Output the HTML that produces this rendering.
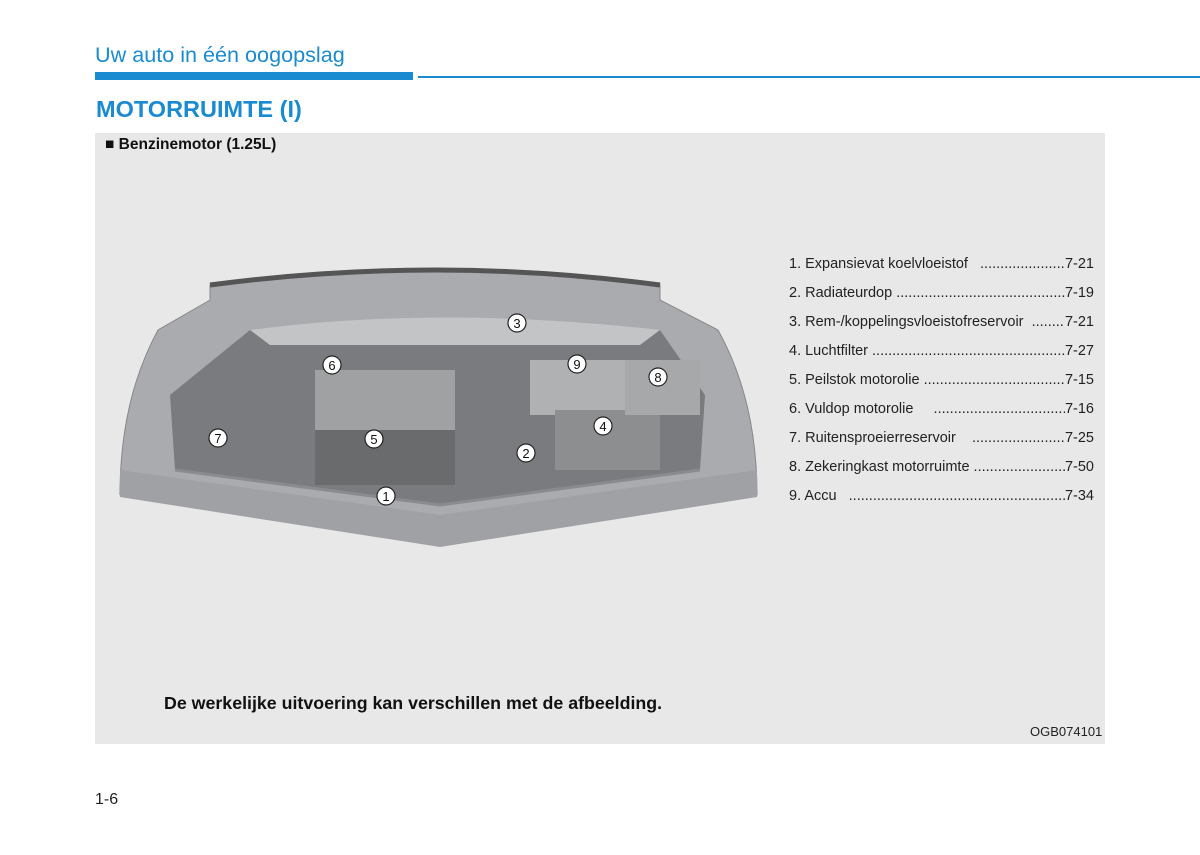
<!DOCTYPE html>
<html><head><meta charset="utf-8"><style>
body{margin:0;width:1200px;height:855px;background:#fff;position:relative;font-family:"Liberation Sans",sans-serif;overflow:hidden}
.a{position:absolute;white-space:nowrap}
.li{position:absolute;left:789px;width:305px;font-size:14.5px;color:#222;display:flex;white-space:nowrap}
.li .d{flex:1;overflow:hidden}
.li .d:after{content:"......................................................................................................"}
</style></head><body>
<div class="a" style="left:95px;top:42px;font-size:21.6px;color:#1a8bd0">Uw auto in één oogopslag</div>
<div class="a" style="left:95px;top:72px;width:318px;height:8px;background:#1a8bd0"></div>
<div class="a" style="left:418px;top:76px;width:782px;height:2px;background:#1a8bd0"></div>
<div class="a" style="left:96px;top:96px;font-size:23.5px;font-weight:bold;color:#1a8bd0">MOTORRUIMTE (I)</div>
<div class="a" style="left:95px;top:133px;width:1010px;height:611px;background:#e8e8e8"></div>
<div class="a" style="left:105px;top:136px;font-size:15.5px;font-weight:bold;color:#111">■ Benzinemotor (1.25L)</div>
<svg class="a" style="left:0;top:0" width="1200" height="855">
<path d="M158,330 Q120,400 120,495 L440,545 L757,495 Q757,400 718,330 L660,300 L660,285 Q435,255 210,285 L210,300 Z" fill="#a9abae" stroke="#888" />
<path d="M120,470 L440,515 L757,470 L757,497 L440,547 L120,497 Z" fill="#9fa1a4"/>
<path d="M170,395 L175,470 L440,505 L700,470 L705,395 L660,330 L250,330 Z" fill="#7a7b7e"/>
<path d="M250,330 Q440,305 660,330 L640,345 L270,345 Z" fill="#c3c4c6"/>
<rect x="315" y="370" width="140" height="60" fill="#a0a1a3"/>
<rect x="315" y="430" width="140" height="55" fill="#6a6b6d"/>
<rect x="530" y="360" width="100" height="55" fill="#b0b1b3"/>
<rect x="555" y="410" width="105" height="60" fill="#8d8e90"/>
<rect x="625" y="360" width="75" height="55" fill="#a7a8aa"/>
<path d="M210,285 Q435,255 660,285" fill="none" stroke="#555" stroke-width="5"/>
<path d="M175,470 L440,505 L700,470" fill="none" stroke="#8a8b8e" stroke-width="3"/>
<g fill="#fff" stroke="#222" stroke-width="1.2">
<circle cx="386" cy="496" r="9"/><circle cx="526" cy="453" r="9"/><circle cx="517" cy="323" r="9"/>
<circle cx="603" cy="426" r="9"/><circle cx="374" cy="439" r="9"/><circle cx="332" cy="365" r="9"/>
<circle cx="218" cy="438" r="9"/><circle cx="658" cy="377" r="9"/><circle cx="577" cy="364" r="9"/>
</g>
<g fill="#111" font-size="13" text-anchor="middle" font-family="Liberation Sans">
<text x="386" y="501">1</text><text x="526" y="458">2</text><text x="517" y="328">3</text>
<text x="603" y="431">4</text><text x="374" y="444">5</text><text x="332" y="370">6</text>
<text x="218" y="443">7</text><text x="658" y="382">8</text><text x="577" y="369">9</text>
</g>
</svg>
<div class="li" style="top:256px"><span>1. Expansievat koelvloeistof &nbsp;&nbsp;</span><span class="d"></span><span>7-21</span></div>
<div class="li" style="top:285px"><span>2. Radiateurdop&nbsp;</span><span class="d"></span><span>7-19</span></div>
<div class="li" style="top:314px"><span>3. Rem-/koppelingsvloeistofreservoir &nbsp;</span><span class="d"></span><span>7-21</span></div>
<div class="li" style="top:343px"><span>4. Luchtfilter&nbsp;</span><span class="d"></span><span>7-27</span></div>
<div class="li" style="top:372px"><span>5. Peilstok motorolie&nbsp;</span><span class="d"></span><span>7-15</span></div>
<div class="li" style="top:401px"><span>6. Vuldop motorolie &nbsp;&nbsp;&nbsp;&nbsp;</span><span class="d"></span><span>7-16</span></div>
<div class="li" style="top:430px"><span>7. Ruitensproeierreservoir &nbsp;&nbsp;&nbsp;</span><span class="d"></span><span>7-25</span></div>
<div class="li" style="top:459px"><span>8. Zekeringkast motorruimte&nbsp;</span><span class="d"></span><span>7-50</span></div>
<div class="li" style="top:488px"><span>9. Accu &nbsp;&nbsp;</span><span class="d"></span><span>7-34</span></div>
<div class="a" style="left:164px;top:693px;font-size:17.8px;font-weight:bold;color:#111">De werkelijke uitvoering kan verschillen met de afbeelding.</div>
<div class="a" style="left:1030px;top:724px;font-size:13px;color:#222">OGB074101</div>
<div class="a" style="left:95px;top:791px;font-size:16px;color:#222">1-6</div>
</body></html>
